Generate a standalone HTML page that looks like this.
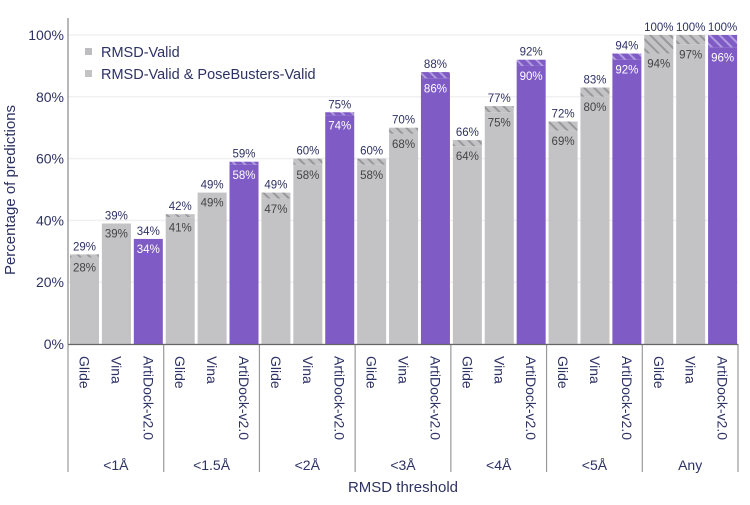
<!DOCTYPE html>
<html><head><meta charset="utf-8"><style>
body{margin:0;background:#fff;}
svg{font-family:"Liberation Sans",sans-serif;}
</style></head><body>
<svg id="chart" width="750" height="500" viewBox="0 0 750 500" xmlns="http://www.w3.org/2000/svg">
<defs>
<pattern id="hatchGray" patternUnits="userSpaceOnUse" width="7" height="7" patternTransform="rotate(-45)">
<rect width="7" height="7" fill="#c3c2c4"/><rect width="2" height="7" fill="#98979a"/></pattern>
<pattern id="hatchPurple" patternUnits="userSpaceOnUse" width="7" height="7" patternTransform="rotate(-45)">
<rect width="7" height="7" fill="#7f5bc6"/><rect width="2" height="7" fill="#b19ce0"/></pattern>
</defs>
<g id="grid"></g>
<g id="bars"></g>
<g id="axes"></g>
<text transform="translate(15,190) rotate(-90)" text-anchor="middle" font-size="15" fill="#2d3264">Percentage of predictions</text>
<text x="403" y="492" text-anchor="middle" font-size="15" fill="#2d3264">RMSD threshold</text>
<g>
<rect x="85" y="48" width="7" height="7" fill="#bdbcbf"/>
<text x="101" y="57" font-size="14.5" fill="#2d3264">RMSD-Valid</text>
<rect x="85" y="70" width="7" height="7" fill="#c3c2c4"/>
<text x="101" y="79" font-size="14.5" fill="#2d3264">RMSD-Valid &amp; PoseBusters-Valid</text>
</g>
</svg>
<script>
const groups = ["<1Å","<1.5Å","<2Å","<3Å","<4Å","<5Å","Any"];
const methods = ["Glide","Vina","ArtiDock-v2.0"];
const rmsdValid = [[29,39,34],[42,49,59],[49,60,75],[60,70,88],[66,77,92],[72,83,94],[100,100,100]];
const pbValid = [[28,39,34],[41,49,58],[47,58,74],[58,68,86],[64,75,90],[69,80,92],[94,97,96]];
const yTicks = [0,20,40,60,80,100];

const NS="http://www.w3.org/2000/svg";
const X0=68, X1=738, Y0=344, Y100=35;
const gw=(X1-X0)/groups.length, step=gw/3.0, bw=29;
const y=v=>Y0-(Y0-Y100)*v/100;
const gx=i=>X0+i*gw;
const bx=(i,j)=>gx(i)+2+j*step;
function el(tag,attrs,parent,text){const e=document.createElementNS(NS,tag);for(const k in attrs)e.setAttribute(k,attrs[k]);if(text!==undefined)e.textContent=text;parent.appendChild(e);return e;}
const grid=document.getElementById('grid'),bars=document.getElementById('bars'),axes=document.getElementById('axes');
yTicks.forEach(t=>{
  const l=el('line',{x1:X0,x2:X1,y1:y(t),y2:y(t),stroke:'#f0f0f2','stroke-width':1.5},grid);
  
  
  const tx=el('text',{x:64,y:y(t)+5,'text-anchor':'end','font-size':14,fill:'#2d3264'},axes,t+'%');
  
  
});
groups.forEach((g,i)=>{
  methods.forEach((m,j)=>{
    const purple=j===2;
    const x=bx(i,j),a=rmsdValid[i][j],b=pbValid[i][j];
    const r1=el('rect',{x:x,y:y(a),width:bw,height:y(b)-y(a),fill:purple?'url(#hatchPurple)':'url(#hatchGray)'},bars);
    
    
    const r2=el('rect',{x:x,y:y(b),width:bw,height:Y0-y(b),fill:purple?'#7f5bc6':'#c3c2c4'},bars);
    
    
    const t1=el('text',{x:x+bw/2,y:y(a)-4,'text-anchor':'middle','font-size':11.5,fill:'#2d3264'},bars,a+'%');
    
    
    const t2=el('text',{x:x+bw/2,y:y(b)+14,'text-anchor':'middle','font-size':11.5,fill:purple?'#ffffff':'#444444'},bars,b+'%');
    
    
    const ml=el('text',{transform:`translate(${x+bw/2-5},356) rotate(90)`,'font-size':14,fill:'#2d3264'},axes,m);
    
    
  });
  const gl=el('text',{x:gx(i)+gw/2,y:470,'text-anchor':'middle','font-size':14,fill:'#2d3264'},axes,g);
  
  
});
for(let i=0;i<=groups.length;i++){
  const s=el('line',{x1:gx(i),x2:gx(i),y1:Y0,y2:472,stroke:'#999','stroke-width':1.2},axes);
  
  
}
const ya=el('line',{x1:X0,x2:X0,y1:18,y2:Y0,stroke:'#888','stroke-width':1.2},axes);


const xa=el('line',{x1:X0,x2:X1,y1:Y0+0.5,y2:Y0+0.5,stroke:'#666','stroke-width':1.2},axes);


</script>
</body></html>
